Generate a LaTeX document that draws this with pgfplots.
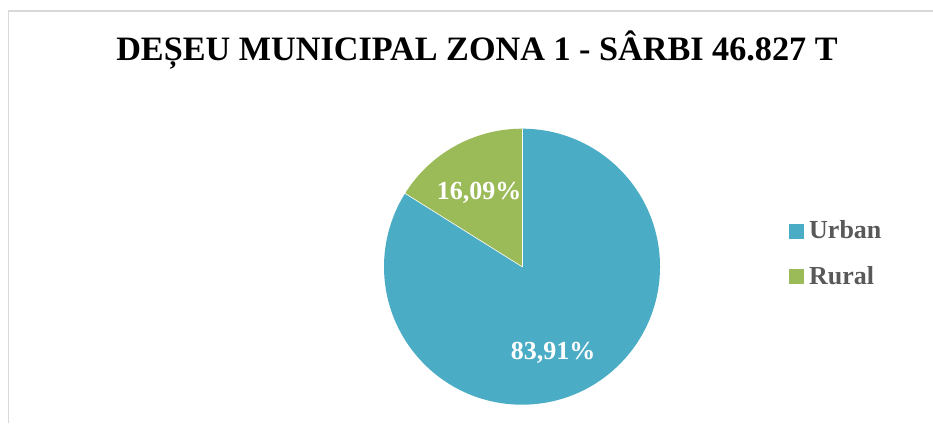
\documentclass[border=0pt]{standalone}
\usepackage{pgfplots}
\pgfplotsset{compat=1.18}
\usepackage{fontspec}
\setmainfont{Liberation Serif}

\definecolor{urbanc}{RGB}{75,172,198}
\definecolor{ruralc}{RGB}{155,187,89}
\definecolor{legtext}{RGB}{89,89,89}
\definecolor{framec}{RGB}{217,217,217}

% shares in percent
\def\urban{83.91}
\def\rural{16.09}

\begin{document}
\begin{tikzpicture}[x=1pt,y=1pt]
\useasboundingbox (0,0) rectangle (933,423);

\pgfmathsetmacro{\aU}{90-\urban*3.6}
\pgfmathsetmacro{\aR}{\aU-\rural*3.6}

\begin{axis}[
    at={(0,0)}, anchor=south west,
    x=1pt, y=1pt,
    xmin=0, xmax=933, ymin=0, ymax=423,
    hide axis, clip=false,
]
% pie, centre and radius in axis units (1 unit = 1pt)
\fill[urbanc] (axis cs:522,156.3) -- ++(90:138) arc[start angle=90, end angle=\aU, radius=138] -- cycle;
\fill[ruralc] (axis cs:522,156.3) -- ++(\aU:138) arc[start angle=\aU, end angle=\aR, radius=138] -- cycle;
\draw[white, line width=0.6pt] (axis cs:522,156.3) -- ++(90:138);
\draw[white, line width=0.6pt] (axis cs:522,156.3) -- ++(\aU:138);

% data labels
\node[font=\fontsize{26}{30}\selectfont\bfseries, text=white, anchor=base]
    at (axis cs:479,223) {16,09\%};
\node[font=\fontsize{26}{30}\selectfont\bfseries, text=white, anchor=base]
    at (axis cs:553,63.7) {83,91\%};

% legend
\fill[urbanc] (axis cs:789,184) rectangle (axis cs:804,199);
\fill[ruralc] (axis cs:789,139) rectangle (axis cs:804,154);
\node[font=\fontsize{26}{30}\selectfont\bfseries, text=legtext, anchor=base west, inner sep=0pt]
    at (axis cs:809,184) {Urban};
\node[font=\fontsize{26}{30}\selectfont\bfseries, text=legtext, anchor=base west, inner sep=0pt]
    at (axis cs:809,138.7) {Rural};
\end{axis}

% chart frame
\draw[framec, line width=1.2pt] (8.5,0) -- (8.5,412) -- (933,412);

% title
\node[font=\fontsize{34.2}{40}\selectfont\bfseries, anchor=base, inner sep=0pt]
    at (477,362) {DEȘEU MUNICIPAL ZONA 1 - SÂRBI 46.827 T};
\end{tikzpicture}
\end{document}
